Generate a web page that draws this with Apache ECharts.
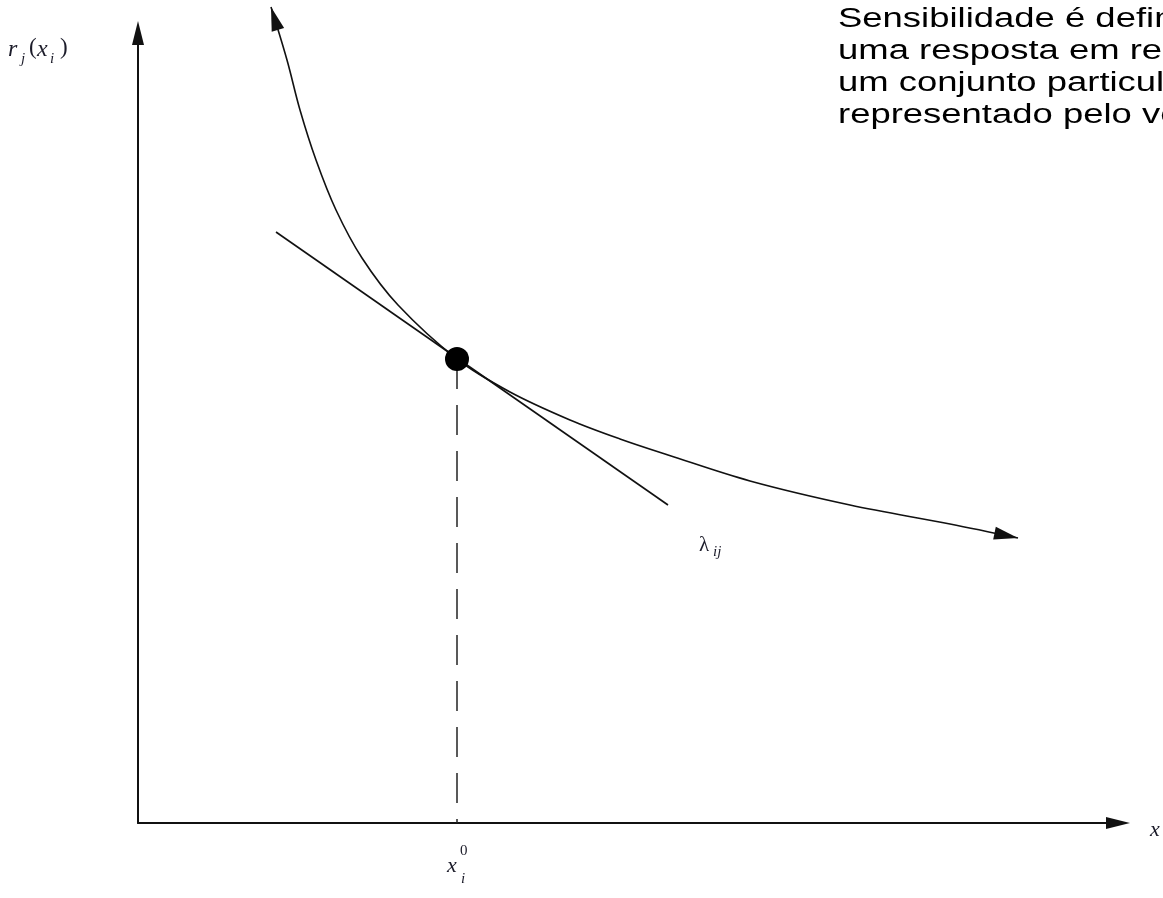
<!DOCTYPE html>
<html><head><meta charset="utf-8">
<script src="https://cdn.jsdelivr.net/npm/echarts@6/dist/echarts.min.js"></script>
<style>html,body{margin:0;padding:0;background:#fff;overflow:hidden}#c{width:1163px;height:898px}</style>
</head><body><div id="c"></div>
<script>
// curve r_j(x_i) (abstract units, x: 0..98, y: 0..79)
const curveX = [13.3, 14.9, 16.2, 17.8, 19.8, 22.4, 26.0, 31.9, 37.2, 43.2, 48.2, 53.0, 61.2, 71.2, 81.2, 88.0];
const curveY = [81.6, 76.3, 71.3, 66.3, 61.3, 56.5, 51.8, 46.4, 43.1, 40.3, 38.4, 36.8, 34.2, 31.8, 29.9, 28.5];
// tangent line (sensitivity lambda_ij)
const tangentX = [13.8, 53.0];
const tangentY = [59.1, 31.8];
// point x_i^0
const pointX = [31.9];
const pointY = [46.4];
const textLines = [
  'Sensibilidade é definida',
  'uma resposta em relação a',
  'um conjunto particular',
  'representado pelo vetor'
];

const curveData = curveX.map((x, i) => [x, curveY[i]]);
const n = curveX.length;
const arrowData = [
  [curveX[1], curveY[1], curveX[0], curveY[0]],
  [curveX[n - 2], curveY[n - 2], curveX[n - 1], curveY[n - 1]]
];
const INK = '#111';

const chart = echarts.init(document.getElementById('c'), null, {renderer: 'canvas'});
const serif = '"Liberation Serif", "DejaVu Serif", serif';
function t(x, y, s, size, italic) {
  return {type: 'text', x: x, y: y, silent: true,
    style: {text: s, fill: '#1c1c2a', font: (italic ? 'italic ' : '') + size + 'px ' + serif, verticalAlign: 'middle'}};
}

chart.setOption({
  animation: false,
  backgroundColor: '#fff',
  grid: {left: 138, right: 45, top: 33, bottom: 75, containLabel: false},
  xAxis: {
    type: 'value', min: 0, max: 98,
    axisLine: {show: true, onZero: false, symbol: ['none', 'triangle'], symbolSize: [12, 24],
      lineStyle: {color: INK, width: 2}},
    axisTick: {show: false}, axisLabel: {show: false}, splitLine: {show: false}
  },
  yAxis: {
    type: 'value', min: 0, max: 79,
    axisLine: {show: true, onZero: false, symbol: ['none', 'triangle'], symbolSize: [12, 24],
      lineStyle: {color: INK, width: 2}},
    axisTick: {show: false}, axisLabel: {show: false}, splitLine: {show: false}
  },
  series: [
    {
      type: 'line', data: curveData, smooth: 0.35, showSymbol: false, symbol: 'none',
      clip: false, lineStyle: {color: INK, width: 1.6}, silent: true
    },
    {
      type: 'custom', clip: false, silent: true,
      encode: {x: [0, 2], y: [1, 3]},
      data: arrowData,
      renderItem: function (params, api) {
        const a = api.coord([api.value(0), api.value(1)]);
        const b = api.coord([api.value(2), api.value(3)]);
        const dx = b[0] - a[0], dy = b[1] - a[1];
        const len = Math.hypot(dx, dy);
        const ux = dx / len, uy = dy / len;
        const L = 24, W = 6.5;
        const bx = b[0] - ux * L, by = b[1] - uy * L;
        return {
          type: 'polygon',
          shape: {points: [[b[0], b[1]], [bx - uy * W, by + ux * W], [bx + uy * W, by - ux * W]]},
          style: {fill: INK}
        };
      }
    },
    {
      type: 'line', data: tangentX.map((x, i) => [x, tangentY[i]]), showSymbol: false, symbol: 'none',
      lineStyle: {color: INK, width: 1.6}, silent: true
    },
    {
      type: 'line', data: [[pointX[0], pointY[0]], [pointX[0], 0]], showSymbol: false, symbol: 'none',
      lineStyle: {color: '#222', width: 1.5, type: [30, 16]}, silent: true
    },
    {
      type: 'scatter', data: pointX.map((x, i) => [x, pointY[i]]), symbol: 'circle', symbolSize: 24,
      itemStyle: {color: '#000', opacity: 1}, silent: true, z: 5
    }
  ],
  graphic: [
    {type: 'text', x: 838, y: 4, scaleX: 1.35, silent: true,
      style: {text: textLines.join('\n'), fill: '#000', font: '27px "Liberation Sans", Arial, sans-serif',
        lineHeight: 32, verticalAlign: 'top'}},
    // r_j(x_i)
    t(8, 50, 'r', 24, true), t(21, 59, 'j', 15, true), t(29, 48, '(', 23, false),
    t(37, 50, 'x', 24, true), t(50, 59, 'i', 15, true), t(60, 48, ')', 23, false),
    // lambda_ij
    t(699, 545, 'λ', 21, false), t(713, 552, 'ij', 15, true),
    // x_i^0
    t(447, 866, 'x', 22, true), t(460, 851, '0', 15, false), t(461, 879, 'i', 15, true),
    // x axis label
    t(1150, 830, 'x', 22, true)
  ]
});
</script></body></html>
